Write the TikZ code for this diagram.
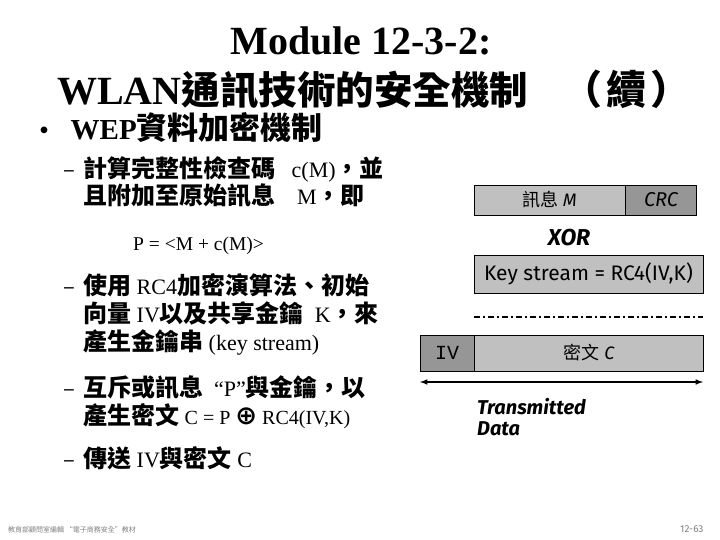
\documentclass[tikz,border=0pt]{standalone}
\usepackage{fontspec}
\setmainfont{Liberation Serif}
\newfontfamily\cjk{Noto Sans CJK TC}
\newfontfamily\dgm{Fira Sans}
\newfontfamily\mono{Liberation Mono}
\newfontfamily\sym{DejaVu Sans}
\usetikzlibrary{positioning}
\newcommand\zh[1]{{\cjk #1}}
\newcommand\fs[1]{\fontsize{#1}{#1}\selectfont}
\definecolor{boxlite}{HTML}{C0C0C0}
\definecolor{boxdark}{HTML}{969696}
\definecolor{footgray}{HTML}{808080}
\begin{document}
\begin{tikzpicture}[x=1pt,y=-1pt,>=latex,
    txt/.style={anchor=base west,inner sep=0pt},
    cell/.style={draw,line width=0.8pt,inner sep=0pt,minimum height=30pt,font=\dgm\fs{18}},
    lite/.style={cell,fill=boxlite},
    dark/.style={cell,fill=boxdark}]
\useasboundingbox (0,0) rectangle (720,540);
\begin{scope}
    % title
    \node[anchor=base,inner sep=0pt] (t1) at (361,55) {\fs{40}\bfseries Module 12-3-2:};
    \node[txt] (t2) at (57,105) {\fs{40}\bfseries WLAN\zh{\fs{38.5}通訊技術的安全機制}};
    \node[txt] (t3) at (562,105) {\zh{\fs{40}\bfseries （\hspace{4pt}續\hspace{4pt}）}};
    \node[txt] (b1) at (32,140) {\fs{29}\bfseries\zh{\fs{24}•}\ \ WEP\zh{\fs{31}資料加密機制}};
\end{scope}

\begin{scope}[every node/.style={txt,font=\fs{22}}]
    \foreach \y in {178,294,396,467}
    {
        \node at (63,\y) {\zh{–}};
    }
    \node (s1a) at (83,178) {\zh{\fs{24}\bfseries 計算完整性檢查碼}\ \ \ c(M)\zh{\fs{24}\bfseries ，並}};
    \node (s1b) at (83,205) {\zh{\fs{24}\bfseries 且附加至原始訊息}\ \ \ \ M\zh{\fs{24}\bfseries ，即}};
    \node (pm) at (133,250) {\fs{19.5}P = <M + c(M)>};
    \node (s2a) at (83,294) {\zh{\fs{24}\bfseries 使用} RC4\zh{\fs{24}\bfseries 加密演算法、初始}};
    \node (s2b) at (83,322) {\zh{\fs{24}\bfseries 向量} IV\zh{\fs{24}\bfseries 以及共享金鑰}\ \ K\zh{\fs{24}\bfseries ，來}};
    \node (s2c) at (83,350) {\zh{\fs{24}\bfseries 產生金鑰串} (key stream)};
    \node (s3a) at (83,396) {\zh{\fs{24}\bfseries 互斥或訊息}\ \ “P”\zh{\fs{24}\bfseries 與金鑰，以}};
    \node (s3b) at (83,424) {\zh{\fs{24}\bfseries 產生密文} {\fs{20}C = P {\sym\bfseries\fs{26}⊕} RC4(IV,K)}};
    \node (s4) at (83,467) {\zh{\fs{24}\bfseries 傳送} IV\zh{\fs{24}\bfseries 與密文} C};
\end{scope}

% packet diagram
\node[lite,minimum width=151pt] (msg) at (549.5,200) {\zh{訊息} \textit{M}};
\node[dark,minimum width=71pt,right=0pt of msg,font=\dgm\fs{20}] (crc) {\textit{CRC}};
\node[inner sep=0pt] (xor) at (569,238) {\dgm\fs{23}\bfseries\itshape XOR};
\node[lite,minimum width=229pt,minimum height=38pt,font=\dgm\fs{21}] (key) at (588.5,274) {Key stream = RC4(IV,K)};
\coordinate (dl) at (474,317);
\coordinate (dr) at (703,317);
\draw[line width=1.5pt,dash pattern=on 6pt off 3pt on 2pt off 3pt] (dl) -- (dr);
\node[dark,minimum width=54pt,minimum height=36pt] (iv) at (447,353) {\mono\fs{20}IV};
\node[lite,minimum width=229pt,minimum height=36pt,right=0pt of iv] (ctx) {\zh{密文} \textit{C}};
\coordinate (al) at (420,382);
\coordinate (ar) at (703,382);
\draw[<->,line width=1.5pt] (al) -- (ar);
\node[anchor=north west,inner sep=0pt,align=left,font=\dgm\fs{20}\bfseries\itshape] (tx) at (477,398) {Transmitted\\[1pt]Data};

% footer
\node[txt,text=footgray] (fl) at (8,532) {\zh{\fs{7}教育部顧問室編輯 “電子商務安全”教材}};
\node[txt,text=footgray] (fr) at (680,532) {\dgm\fs{10}12-63};
\end{tikzpicture}
\end{document}
